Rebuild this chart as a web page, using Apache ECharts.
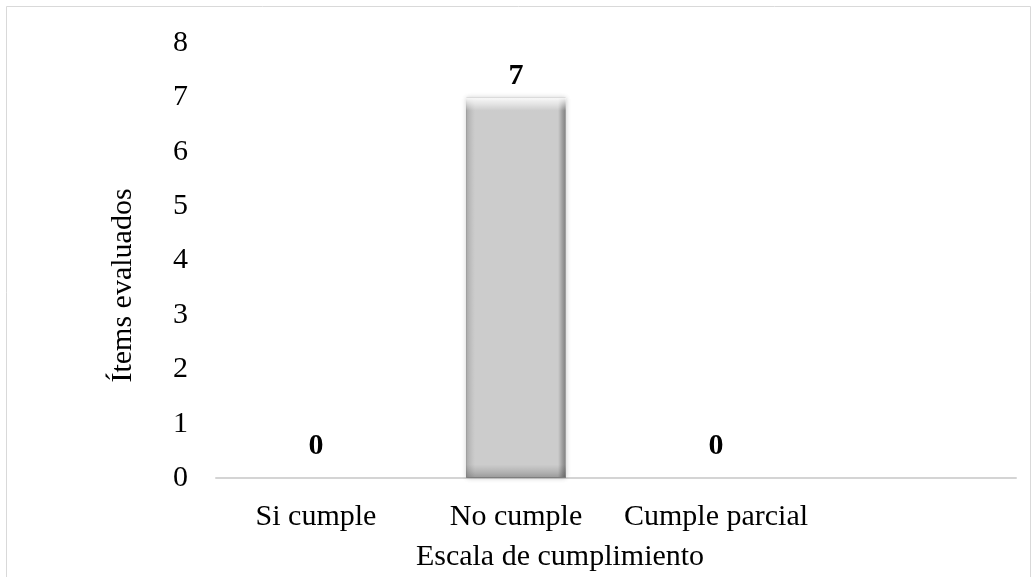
<!DOCTYPE html>
<html>
<head>
<meta charset="utf-8">
<script src="https://cdn.jsdelivr.net/npm/echarts@6/dist/echarts.min.js"></script>
<style>
  html, body { margin: 0; padding: 0; background: #fff; }
  #chart { width: 1033px; height: 577px; }
</style>
</head>
<body>
<div id="chart"></div>
<script>
const categories = ['Si cumple', 'No cumple', 'Cumple parcial', ''];
const itemValues = [0, 7, 0, null];
const yTicks = [0, 1, 2, 3, 4, 5, 6, 7, 8];

const FONT = '"Liberation Serif", "DejaVu Serif", serif';
const FS = 30;

const chart = echarts.init(document.getElementById('chart'), null, { renderer: 'canvas' });

// barras de valor 0 : sin sombra ni borde, etiqueta un poco más alta
const barData = itemValues.map(v => v === 0
  ? { value: v, itemStyle: { borderWidth: 0, shadowBlur: 0 }, label: { distance: 17 } }
  : v);

chart.setOption({
  animation: false,
  backgroundColor: '#fff',
  grid: { left: 216, right: 17, top: 43, bottom: 99 },
  graphic: [{
    type: 'rect',
    shape: { x: 6.5, y: 6.5, width: 1024, height: 600 },
    style: { fill: 'none', stroke: '#d9d9d9', lineWidth: 1 },
    silent: true
  }],
  xAxis: {
    type: 'category',
    data: categories,
    name: 'Escala de cumplimiento',
    nameLocation: 'middle',
    nameGap: 64,
    nameTextStyle: { fontFamily: FONT, fontSize: FS, color: '#000', padding: [0, 112, 0, 0] },
    axisLine: { lineStyle: { color: '#d4d4d4', width: 2 } },
    axisTick: { show: false },
    axisLabel: { fontFamily: FONT, fontSize: FS, color: '#000', margin: 24, interval: 0 }
  },
  yAxis: {
    type: 'value',
    min: yTicks[0],
    max: yTicks[yTicks.length - 1],
    interval: 1,
    name: 'Ítems evaluados',
    nameLocation: 'middle',
    nameGap: 78,
    nameRotate: 90,
    nameTextStyle: { fontFamily: FONT, fontSize: FS, color: '#000', padding: [0, 50, 0, 0] },
    axisLine: { show: false },
    axisTick: { show: false },
    splitLine: { show: false },
    axisLabel: { fontFamily: FONT, fontSize: FS, color: '#000', margin: 28, padding: [8, 0, 0, 0] }
  },
  series: [{
    type: 'bar',
    data: barData,
    barWidth: '50%',
    itemStyle: {
      color: new echarts.graphic.LinearGradient(0, 0, 1, 0, [
        { offset: 0, color: '#a8a8a8' },
        { offset: 0.02, color: '#b8b8b8' },
        { offset: 0.09, color: '#cccccc' },
        { offset: 0.92, color: '#cccccc' },
        { offset: 0.96, color: '#a4a4a4' },
        { offset: 1, color: '#828282' }
      ]),
      borderColor: '#a0a0a0',
      borderWidth: 1,
      shadowBlur: 5,
      shadowColor: 'rgba(0,0,0,0.2)'
    },
    label: {
      show: true,
      position: 'top',
      distance: 6,
      fontFamily: FONT,
      fontSize: FS,
      fontWeight: 'bold',
      color: '#000'
    }
  }, {
    // bisel arriba / abajo
    type: 'bar',
    data: itemValues,
    barWidth: '50%',
    barGap: '-100%',
    silent: true,
    itemStyle: {
      color: new echarts.graphic.LinearGradient(0, 0, 0, 1, [
        { offset: 0, color: 'rgba(255,255,255,0.95)' },
        { offset: 0.035, color: 'rgba(255,255,255,0)' },
        { offset: 0.965, color: 'rgba(0,0,0,0)' },
        { offset: 1, color: 'rgba(0,0,0,0.22)' }
      ])
    }
  }]
});
</script>
</body>
</html>
